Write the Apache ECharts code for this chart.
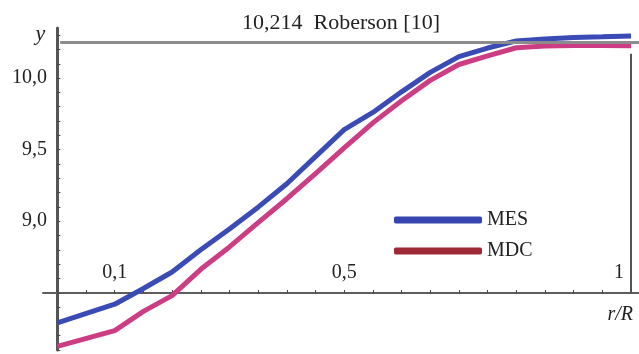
<!DOCTYPE html>
<html>
<head>
<meta charset="utf-8">
<script src="https://cdn.jsdelivr.net/npm/echarts@6/dist/echarts.min.js"></script>
<style>
  html, body { margin: 0; padding: 0; background: #fff; }
  #chart { width: 639px; height: 354px; }
</style>
</head>
<body>
<div id="chart"></div>
<script>
// r/R positions
const rValues = [0, 0.1, 0.15, 0.2, 0.25, 0.3, 0.35, 0.4, 0.45, 0.5, 0.55, 0.6, 0.65, 0.7, 0.75, 0.8, 0.85, 0.9, 0.95, 1.0];
// MES curve (blue)
const mesValues = [8.29, 8.42, 8.53, 8.645, 8.80, 8.946, 9.098, 9.262, 9.451, 9.64, 9.76, 9.904, 10.04, 10.15, 10.21, 10.26, 10.273, 10.283, 10.288, 10.294];
// MDC curve (pink)
const mdcValues = [8.125, 8.235, 8.37, 8.48, 8.664, 8.82, 8.99, 9.157, 9.333, 9.513, 9.687, 9.842, 9.984, 10.095, 10.155, 10.212, 10.224, 10.227, 10.227, 10.226];

const robersonLevel = 10.248;   // grey reference line
const xAxisCross = 8.5;         // y value where the r/R axis sits
const edgeTop = 10.17;          // top of the vertical line at r/R = 1

const xTicks = [0, 0.05, 0.1, 0.15, 0.2, 0.25, 0.3, 0.35, 0.4, 0.45, 0.5, 0.55, 0.6, 0.65, 0.7, 0.75, 0.8, 0.85, 0.9, 0.95, 1];
const xLabels = [0.1, 0.5, 1];
const yTicks = [8.1, 8.2, 8.3, 8.4, 8.5, 8.6, 8.7, 8.8, 8.9, 9.0, 9.1, 9.2, 9.3, 9.4, 9.5, 9.6, 9.7, 9.8, 9.9, 10.0, 10.1, 10.2, 10.3];
const yLabels = [9.0, 9.5, 10.0];

const serif = '"Liberation Serif", "DejaVu Serif", serif';
const comma = v => String(Number(v).toFixed(1)).replace('.', ',');

const chart = echarts.init(document.getElementById('chart'));

chart.setOption({
  animation: false,
  title: {
    text: '10,214  Roberson [10]',
    left: 237,
    top: 7,
    textStyle: { fontFamily: serif, fontSize: 22, fontWeight: 'normal', color: '#222' }
  },
  legend: {
    orient: 'vertical',
    left: 389,
    top: 205,
    itemGap: 11,
    itemWidth: 88,
    itemHeight: 7,
    icon: 'roundRect',
    textStyle: { fontFamily: serif, fontSize: 20, color: '#222' },
    data: [
      { name: 'MES', itemStyle: { color: '#3645b0' } },
      { name: 'MDC', itemStyle: { color: '#9c2934' } }
    ]
  },
  grid: { left: 43, top: 28, width: 596, height: 322, containLabel: false },
  xAxis: {
    type: 'value',
    min: -0.025,
    max: 1.0139,
    offset: -57,
    splitLine: { show: false },
    axisLine: { lineStyle: { color: '#5e5e5e', width: 2 } },
    axisTick: { inside: true, length: 3, lineStyle: { color: '#444' }, customValues: xTicks },
    axisLabel: {
      inside: true,
      margin: 10,
      customValues: xLabels,
      fontFamily: serif,
      fontSize: 20,
      color: '#222',
      formatter: v => v === 1 ? '{r|1}' : comma(v),
      rich: { r: { fontFamily: serif, fontSize: 20, color: '#222', padding: [0, 24, 0, 0] } }
    },
    name: 'r/R',
    nameLocation: 'end',
    nameGap: -6,
    nameTextStyle: {
      fontFamily: serif, fontSize: 20, fontStyle: 'italic', color: '#222',
      align: 'right', verticalAlign: 'top', padding: [12, 0, 0, 0]
    }
  },
  yAxis: {
    type: 'value',
    min: 8.1,
    max: 10.35,
    offset: -14,
    splitLine: { show: false },
    axisLine: { lineStyle: { color: '#555', width: 3 } },
    axisTick: { inside: true, length: 3, lineStyle: { color: '#444' }, customValues: yTicks },
    axisLabel: {
      margin: 10,
      customValues: yLabels,
      fontFamily: serif,
      fontSize: 20,
      color: '#222',
      formatter: v => comma(v)
    },
    name: 'y',
    nameLocation: 'end',
    nameGap: -6,
    nameTextStyle: {
      fontFamily: serif, fontSize: 22, fontStyle: 'italic', color: '#222',
      align: 'right', verticalAlign: 'middle', padding: [0, 12, 0, 0]
    }
  },
  series: [
    {
      name: 'guides',
      type: 'line',
      data: [],
      z: 1,
      silent: true,
      markLine: {
        silent: true,
        symbol: 'none',
        label: { show: false },
        data: [
          [
            { coord: [0.005, robersonLevel], lineStyle: { color: '#8c8c8c', width: 3, type: 'solid' } },
            { coord: [1.0139, robersonLevel] }
          ],
          [
            { coord: [1, xAxisCross], lineStyle: { color: '#555', width: 2, type: 'solid' } },
            { coord: [1, edgeTop] }
          ]
        ]
      }
    },
    {
      name: 'MDC',
      type: 'line',
      z: 3,
      clip: false,
      symbol: 'none',
      lineStyle: { color: '#cc3d84', width: 5 },
      itemStyle: { color: '#cc3d84' },
      data: rValues.map((r, i) => [r, mdcValues[i]])
    },
    {
      name: 'MES',
      type: 'line',
      z: 4,
      clip: false,
      symbol: 'none',
      lineStyle: { color: '#3a4bb6', width: 5 },
      itemStyle: { color: '#3a4bb6' },
      data: rValues.map((r, i) => [r, mesValues[i]])
    }
  ]
});

window.addEventListener('resize', () => chart.resize());
</script>
</body>
</html>
